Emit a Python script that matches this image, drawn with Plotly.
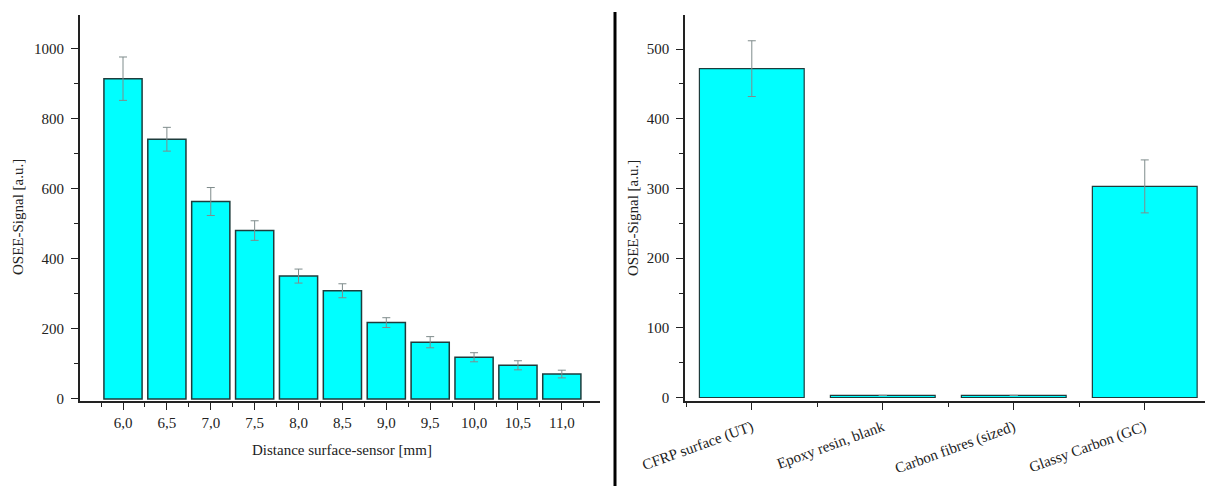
import plotly.graph_objects as go

W, H = 1205, 486

# ---- data: left chart ----
distances = ["6,0", "6,5", "7,0", "7,5", "8,0", "8,5", "9,0", "9,5", "10,0", "10,5", "11,0"]
signal_dist = [915, 742, 564, 481, 351, 309, 218, 162, 119, 96, 71]
err_dist = [62, 34, 40, 28, 20, 20, 14, 16, 13, 13, 11]

# ---- data: right chart ----
materials = ["CFRP surface (UT)", "Epoxy resin, blank", "Carbon fibres (sized)", "Glassy Carbon (GC)"]
signal_mat = [472, 3, 3, 303]
err_mat = [40, 0, 0, 38]

FONT = "Liberation Serif"
BAR = "#00FFFF"
EDGE = "#1e3c3c"
ERR = "#7f8c8c"
TXT = "#222222"
FS = 15

def px(x):
    return x / W

def py(y):
    return (H - y) / H

fig = go.Figure()

idx_d = list(range(len(distances)))
fig.add_trace(go.Bar(
    x=idx_d, y=signal_dist, width=0.87,
    marker=dict(color=BAR, line=dict(color=EDGE, width=1.5)),
    error_y=dict(type="data", array=err_dist, color=ERR, thickness=1, width=4),
    xaxis="x", yaxis="y", showlegend=False,
))

idx_m = list(range(len(materials)))
fig.add_trace(go.Bar(
    x=idx_m, y=signal_mat, width=0.8,
    marker=dict(color=BAR, line=dict(color=EDGE, width=1.2)),
    error_y=dict(type="data", array=err_mat, color=ERR, thickness=1, width=4),
    xaxis="x2", yaxis="y2", showlegend=False,
))

ydom = [py(401), py(15)]
tickfont = dict(family=FONT, size=FS, color=TXT)

fig.update_layout(
    width=W, height=H,
    margin=dict(l=0, r=0, t=0, b=0, autoexpand=False),
    paper_bgcolor="white", plot_bgcolor="white",
    font=dict(family=FONT, size=FS, color=TXT),
    xaxis=dict(
        domain=[px(80), px(600)], range=[-0.98, 10.87],
        tickmode="array", tickvals=idx_d, ticktext=distances,
        showline=True, linecolor="#222", linewidth=1.5,
        ticks="outside", ticklen=7, tickcolor="#222", tickwidth=1.2,
        minor=dict(tickmode="array", tickvals=[i - 0.5 for i in range(len(distances) + 1)],
                   ticks="outside", ticklen=4, tickcolor="#222", tickwidth=1.2),
        showgrid=False, zeroline=False, tickfont=tickfont, anchor="y",
        automargin=False,
    ),
    yaxis=dict(
        domain=ydom, range=[-6, 1097],
        tickmode="linear", tick0=0, dtick=200,
        showline=True, linecolor="#222", linewidth=2.2,
        ticks="outside", ticklen=7, tickcolor="#222", tickwidth=1.2,
        minor=dict(dtick=100, ticks="outside", ticklen=4, tickcolor="#222", tickwidth=1.2),
        showgrid=False, zeroline=False, tickfont=tickfont, anchor="x",
        ticklabelstandoff=4, automargin=False,
    ),
    xaxis2=dict(
        domain=[px(685), 1.0], range=[-0.51, 3.46],
        tickmode="array", tickvals=idx_m, ticktext=materials, tickangle=-20,
        showline=True, linecolor="#222", linewidth=1.5,
        ticks="outside", ticklen=7, tickcolor="#222", tickwidth=1.2,
        minor=dict(tickmode="array", tickvals=[i - 0.5 for i in range(len(materials) + 1)],
                   ticks="outside", ticklen=4, tickcolor="#222", tickwidth=1.2),
        showgrid=False, zeroline=False, tickfont=tickfont, anchor="y2",
        automargin=False, ticklabelstandoff=3,
    ),
    yaxis2=dict(
        domain=ydom, range=[-5, 549],
        tickmode="linear", tick0=0, dtick=100,
        showline=True, linecolor="#222", linewidth=1.5,
        ticks="outside", ticklen=7, tickcolor="#222", tickwidth=1.2,
        minor=dict(dtick=50, ticks="outside", ticklen=4, tickcolor="#222", tickwidth=1.2),
        showgrid=False, zeroline=False, tickfont=tickfont, anchor="x2",
        ticklabelstandoff=4, automargin=False,
    ),
    shapes=[dict(type="line", xref="paper", yref="paper",
                 x0=px(615), x1=px(615), y0=0, y1=py(12),
                 line=dict(color="black", width=3))],
    annotations=[
        dict(text="OSEE-Signal [a.u.]", xref="paper", yref="paper",
             x=px(18), y=py(217), textangle=-90, showarrow=False,
             xanchor="center", yanchor="middle",
             font=dict(family=FONT, size=FS, color=TXT)),
        dict(text="Distance surface-sensor [mm]", xref="paper", yref="paper",
             x=px(342), y=py(450), showarrow=False,
             xanchor="center", yanchor="middle",
             font=dict(family=FONT, size=FS, color=TXT)),
        dict(text="OSEE-Signal [a.u.]", xref="paper", yref="paper",
             x=px(633), y=py(218), textangle=-90, showarrow=False,
             xanchor="center", yanchor="middle",
             font=dict(family=FONT, size=FS, color=TXT)),
    ],
)

fig.write_html(
    "out.html",
    config={"displayModeBar": False},
    post_script="document.body.style.margin='0';document.body.style.overflow='hidden';",
)
